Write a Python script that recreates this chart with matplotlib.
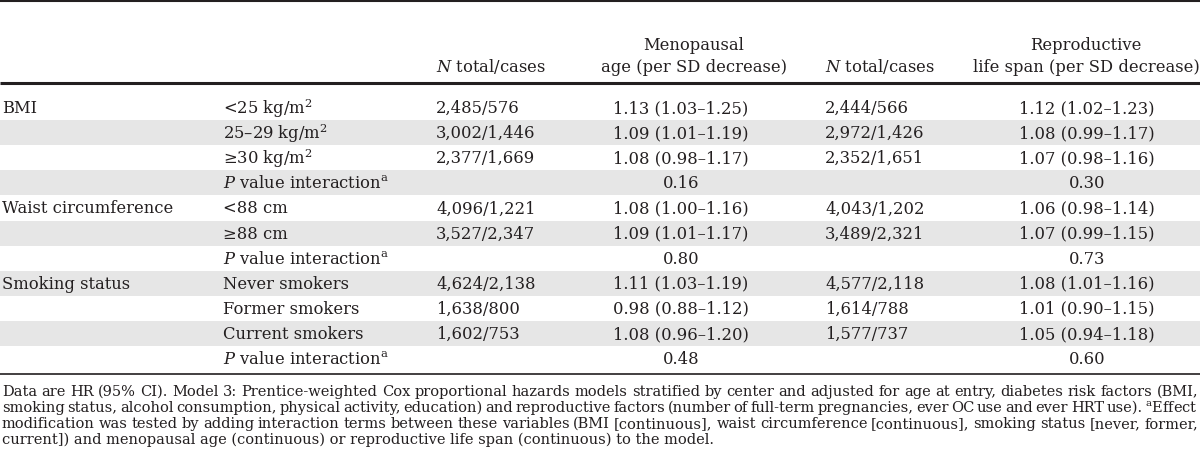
import matplotlib
matplotlib.use("Agg")
import matplotlib.pyplot as plt

plt.rcParams['font.family'] = ['DejaVu Serif']
plt.rcParams['mathtext.fontset'] = 'dejavuserif'

PVAL = r"$\mathit{P}$ value interaction$^{\mathrm{a}}$"

groups = ["BMI", "", "", "", "Waist circumference", "", "", "Smoking status", "", "", ""]
subgroups = ["<25 kg/m$^{\\mathrm{2}}$", "25–29 kg/m$^{\\mathrm{2}}$", "≥30 kg/m$^{\\mathrm{2}}$", PVAL,
             "<88 cm", "≥88 cm", PVAL,
             "Never smokers", "Former smokers", "Current smokers", PVAL]
n_meno = ["2,485/576", "3,002/1,446", "2,377/1,669", "", "4,096/1,221", "3,527/2,347", "",
          "4,624/2,138", "1,638/800", "1,602/753", ""]
hr_meno = ["1.13 (1.03–1.25)", "1.09 (1.01–1.19)", "1.08 (0.98–1.17)", "0.16",
           "1.08 (1.00–1.16)", "1.09 (1.01–1.17)", "0.80",
           "1.11 (1.03–1.19)", "0.98 (0.88–1.12)", "1.08 (0.96–1.20)", "0.48"]
n_repro = ["2,444/566", "2,972/1,426", "2,352/1,651", "", "4,043/1,202", "3,489/2,321", "",
           "4,577/2,118", "1,614/788", "1,577/737", ""]
hr_repro = ["1.12 (1.02–1.23)", "1.08 (0.99–1.17)", "1.07 (0.98–1.16)", "0.30",
            "1.06 (0.98–1.14)", "1.07 (0.99–1.15)", "0.73",
            "1.08 (1.01–1.16)", "1.01 (0.90–1.15)", "1.05 (0.94–1.18)", "0.60"]
shaded = [False, True, False, True, False, True, False, True, False, True, False]

header_n = r"$\mathit{N}$ total/cases"
header_meno = ["Menopausal", "age (per SD decrease)"]
header_repro = ["Reproductive", "life span (per SD decrease)"]

footnote_lines = [
    "Data are HR (95% CI). Model 3: Prentice-weighted Cox proportional hazards models stratified by center and adjusted for age at entry, diabetes risk factors (BMI,",
    "smoking status, alcohol consumption, physical activity, education) and reproductive factors (number of full-term pregnancies, ever OC use and ever HRT use). $^{\\mathrm{a}}$Effect",
    "modification was tested by adding interaction terms between these variables (BMI [continuous], waist circumference [continuous], smoking status [never, former,",
    "current]) and menopausal age (continuous) or reproductive life span (continuous) to the model.",
]

TXT = "#231f20"
SHADE = "#e6e6e6"
FS = 11.8

W, H = 1200, 477
fig = plt.figure(figsize=(W / 100, H / 100), dpi=100)
ax = fig.add_axes([0, 0, 1, 1])
ax.set_xlim(0, W)
ax.set_ylim(H, 0)
ax.axis("off")

# layout (pixels)
x_grp, x_sub, x_n1, x_hr1, x_n2, x_hr2 = 2, 223, 436, 681, 825, 1087
x_h1, x_h2 = 694, 1086
row0, pitch = 96, 25.1

ax.plot([0, W], [1.5, 1.5], color=TXT, lw=1.5, solid_capstyle="butt")
ax.plot([0, W], [84, 84], color=TXT, lw=2.2, solid_capstyle="butt")

ax.text(x_h1, 45, header_meno[0], ha="center", va="center", fontsize=FS, color=TXT)
ax.text(x_h1, 67, header_meno[1], ha="center", va="center", fontsize=FS, color=TXT)
ax.text(x_h2, 45, header_repro[0], ha="center", va="center", fontsize=FS, color=TXT)
ax.text(x_h2, 67, header_repro[1], ha="center", va="center", fontsize=FS, color=TXT)
ax.text(x_n1, 67, header_n, ha="left", va="center", fontsize=FS, color=TXT)
ax.text(x_n2, 67, header_n, ha="left", va="center", fontsize=FS, color=TXT)

for i in range(len(subgroups)):
    top = row0 + pitch * i
    yc = top + pitch / 2
    if shaded[i]:
        ax.fill_between([0, W], top, top + pitch, color=SHADE, lw=0)
    ax.text(x_grp, yc, groups[i], ha="left", va="center", fontsize=FS, color=TXT)
    ax.text(x_sub, yc, subgroups[i], ha="left", va="center", fontsize=FS, color=TXT)
    ax.text(x_n1, yc, n_meno[i], ha="left", va="center", fontsize=FS, color=TXT)
    ax.text(x_hr1, yc, hr_meno[i], ha="center", va="center", fontsize=FS, color=TXT)
    ax.text(x_n2, yc, n_repro[i], ha="left", va="center", fontsize=FS, color=TXT)
    ax.text(x_hr2, yc, hr_repro[i], ha="center", va="center", fontsize=FS, color=TXT)

bottom = row0 + pitch * len(subgroups) + 3
ax.plot([0, W], [bottom, bottom], color=TXT, lw=1.2, solid_capstyle="butt")

# justified footnote, font sized so every justified line fits
renderer = fig.canvas.get_renderer()
x_left, x_right = 2, 1198
target = x_right - x_left


def measure(size):
    out = []
    for line in footnote_lines:
        ws = []
        for w in line.split(" "):
            t = ax.text(0, 0, w, fontsize=size)
            ws.append(t.get_window_extent(renderer).width)
            t.remove()
        out.append(ws)
    return out


ffs = 10.8
while True:
    meas = measure(ffs)
    ok = all(sum(ws) + 2.2 * (len(ws) - 1) <= target for ws in meas[:-1])
    if ok or ffs < 8.5:
        break
    ffs -= 0.1

fy0, fpitch = bottom + 17, 16
for li, line in enumerate(footnote_lines):
    y = fy0 + fpitch * li
    words = line.split(" ")
    if li == len(footnote_lines) - 1:
        ax.text(x_left, y, line, ha="left", va="center", fontsize=ffs, color=TXT)
        continue
    widths = meas[li]
    gap = (target - sum(widths)) / (len(words) - 1)
    x = x_left
    for w, wd in zip(words, widths):
        ax.text(x, y, w, ha="left", va="center", fontsize=ffs, color=TXT)
        x += wd + gap

fig.savefig("out.png", dpi=100, facecolor="white")
